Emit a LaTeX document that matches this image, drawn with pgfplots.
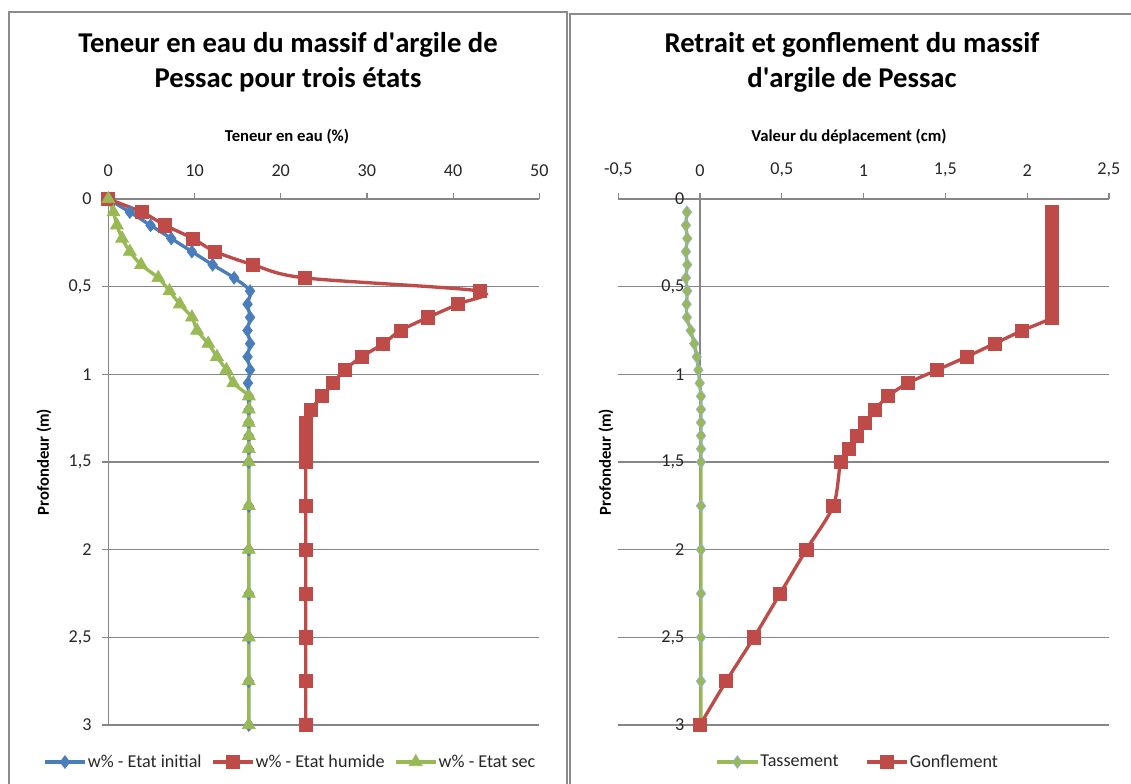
\documentclass[border=0pt]{standalone}
\usepackage{pgfplots}
\pgfplotsset{compat=1.18}
\usepackage{fontspec}
\setmainfont{Carlito}

\definecolor{bleu}{HTML}{4A7EBB}
\definecolor{rouge}{HTML}{BE4B48}
\definecolor{vert}{HTML}{98B954}
\definecolor{grille}{HTML}{868686}
\definecolor{cadre}{HTML}{8C8C8C}

% depth (m) against water content (%)
\pgfplotstableread{
w d
0 0
2.5 0.075
4.9 0.15
7.3 0.225
9.7 0.3
12.1 0.375
14.6 0.45
16.45 0.525
16.15 0.6
16.45 0.675
16.15 0.75
16.45 0.825
16.15 0.9
16.45 0.975
16.2 1.05
16.3 1.125
16.3 1.2
16.3 1.275
16.3 1.35
16.3 1.425
16.3 1.5
16.3 1.75
16.3 2
16.3 2.25
16.3 2.5
16.3 2.75
16.3 3
}\initial
\pgfplotstableread{
w d
0 0
3.9 0.075
6.6 0.15
9.8 0.225
12.4 0.3
16.8 0.375
22.8 0.45
43.1 0.525
40.5 0.6
37.1 0.675
33.9 0.75
31.9 0.825
29.4 0.9
27.4 0.975
26.1 1.05
24.8 1.125
23.5 1.2
22.9 1.275
22.9 1.35
22.9 1.425
22.9 1.5
22.9 1.75
22.9 2
22.9 2.25
22.9 2.5
22.9 2.75
22.9 3
}\humide
\pgfplotstableread{
w d
0 0
0.6 0.075
1.0 0.15
1.6 0.225
2.5 0.3
3.8 0.375
5.8 0.45
7.1 0.525
8.3 0.6
9.7 0.675
10.3 0.75
11.6 0.825
12.6 0.9
13.7 0.975
14.5 1.05
16.3 1.125
16.3 1.2
16.3 1.275
16.3 1.35
16.3 1.425
16.3 1.5
16.3 1.75
16.3 2
16.3 2.25
16.3 2.5
16.3 2.75
16.3 3
}\sec
% displacement (cm)
\pgfplotstableread{
u d
-0.08 0.075
-0.086 0.15
-0.078 0.225
-0.086 0.3
-0.078 0.375
-0.086 0.45
-0.078 0.525
-0.082 0.6
-0.08 0.675
-0.057 0.75
-0.035 0.825
-0.02 0.9
-0.01 0.975
-0.002 1.05
0.006 1.125
0.006 1.2
0.006 1.275
0.006 1.35
0.006 1.425
0.006 1.5
0.006 1.75
0.006 2
0.006 2.25
0.006 2.5
0.006 2.75
0.006 3
}\tassement
\pgfplotstableread{
u d
2.15 0.075
2.15 0.15
2.15 0.225
2.15 0.3
2.15 0.375
2.15 0.45
2.15 0.525
2.15 0.6
2.15 0.675
1.97 0.75
1.80 0.825
1.63 0.9
1.45 0.975
1.27 1.05
1.15 1.125
1.07 1.2
1.01 1.275
0.96 1.35
0.91 1.425
0.86 1.5
0.815 1.75
0.65 2
0.49 2.25
0.33 2.5
0.16 2.75
0 3
}\gonflement

\pgfplotsset{
  profil/.style={
    scale only axis, height=394.5pt, clip=false,
    ymin=0, ymax=3, y dir=reverse,
    ytick={0,0.5,...,3},
    ymajorgrids,
    grid style={grille, line width=0.9pt},
    axis line style={grille, line width=0.9pt},
    major tick style={grille, line width=0.9pt},
    tick align=outside, major tick length=4.5pt,
    /pgf/number format/use comma,
    /pgf/number format/assume math mode=true,
    tick label style={font=\fontsize{13.6}{16}\selectfont, black!85},
    xticklabel style={yshift=8.5pt},
    legend style={draw=none, fill=none, anchor=center, legend columns=-1,
      font=\fontsize{13.6}{16}\selectfont, text=black!85,
      nodes={inner sep=1pt}},
    legend image code/.code={
      \draw[mark repeat=2, mark phase=2, #1]
        plot coordinates {(0pt,0pt) (15pt,0pt) (30pt,0pt)};},
  },
  serie/.style={line width=2.5pt, smooth, tension=0.5},
}

\begin{document}
\begin{tikzpicture}
\begin{scope}[x=0.75pt, y=-0.75pt]
  \useasboundingbox (0,0) rectangle (1131,784);
  \begin{scope}
    \clip (0,0) rectangle (1131,784);
    \draw[cadre, line width=1.4pt] (9,12) rectangle (567,800);
    \draw[cadre, line width=1.4pt] (570,14) rectangle (1140,800);
  \end{scope}
  \node[anchor=base, font=\fontsize{21.5}{26}\selectfont\bfseries] at (288,53) {Teneur en eau du massif d\textquotesingle argile de};
  \node[anchor=base, font=\fontsize{21.5}{26}\selectfont\bfseries] at (288,88) {Pessac pour trois états};
  \node[anchor=base, font=\fontsize{21.5}{26}\selectfont\bfseries] at (852,53) {Retrait et gonflement du massif};
  \node[anchor=base, font=\fontsize{21.5}{26}\selectfont\bfseries] at (852,88) {d\textquotesingle argile de Pessac};
  \node[anchor=base, font=\fontsize{12.5}{14}\selectfont\bfseries] at (287,142) {Teneur en eau (\%)};
  \node[anchor=base, font=\fontsize{12.5}{14}\selectfont\bfseries] at (849,142) {Valeur du déplacement (cm)};
  \node[rotate=90, font=\fontsize{12.5}{14}\selectfont\bfseries] at (44,462) {Profondeur (m)};
  \node[rotate=90, font=\fontsize{12.5}{14}\selectfont\bfseries] at (606,462) {Profondeur (m)};
\end{scope}

\begin{axis}[profil,
  at={(81.225pt,-149.25pt)}, anchor=origin,
  width=323.25pt,
  xmin=0, xmax=50, xtick={0,10,...,50},
  axis x line*=top, axis y line*=left,
  yticklabel style={xshift=-4.5pt},
  legend style={at={(axis cs:21.08,3.211)}, /tikz/every even column/.append style={column sep=6pt}},
]
\addplot[serie, bleu, mark=diamond*, mark size=4.8pt, mark options={fill=bleu, draw=bleu, line width=0.5pt}] table[x=w, y=d] {\initial};
\addlegendentry{w\% - Etat initial}
\addplot[serie, rouge, mark=square*, mark size=4.9pt, mark options={fill=rouge, draw=rouge, line width=0.5pt}] table[x=w, y=d] {\humide};
\addlegendentry{w\% - Etat humide}
\addplot[serie, vert, mark=triangle*, mark size=5.6pt, mark options={fill=vert, draw=vert, line width=0.5pt}] table[x=w, y=d] {\sec};
\addlegendentry{w\% - Etat sec}
\end{axis}

\begin{axis}[profil,
  at={(525pt,-149.25pt)}, anchor=origin,
  width=368pt,
  xmin=-0.5, xmax=2.5, xtick={-0.5,0,...,2.5},
  axis x line*=top, axis y line*=middle,
  hide obscured x ticks=false, hide obscured y ticks=false,
  yticklabel style={xshift=-3.75pt},
  legend style={at={(axis cs:0.963,3.211)}, /tikz/every even column/.append style={column sep=19pt}},
]
\addplot[serie, vert, mark=diamond*, mark size=4.7pt, mark options={fill=vert, draw=bleu!60, line width=0.5pt}] table[x=u, y=d] {\tassement};
\addlegendentry{Tassement}
\addplot[serie, rouge, mark=square*, mark size=4.9pt, mark options={fill=rouge, draw=rouge, line width=0.5pt}] table[x=u, y=d] {\gonflement};
\addlegendentry{Gonflement}
\end{axis}
\end{tikzpicture}
\end{document}
